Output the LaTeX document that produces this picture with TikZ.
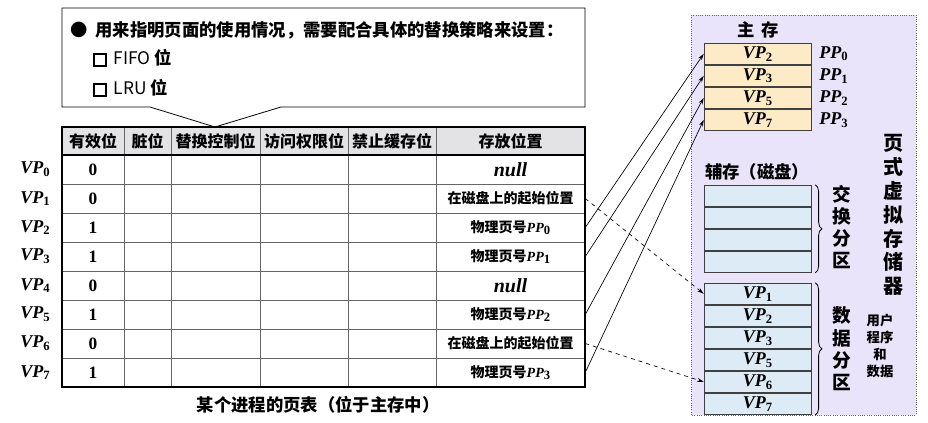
\documentclass[tikz,border=0pt]{standalone}
\usepackage{fontspec}
\usepackage{xcolor}
\usetikzlibrary{arrows.meta,positioning,decorations.pathreplacing}
\newfontfamily\cjk{Noto Sans CJK SC}
\newfontfamily\ser{Liberation Serif}
\definecolor{HeadGray}{HTML}{E3E3E6}
\definecolor{MainYellow}{HTML}{FCEBC6}
\definecolor{DiskBlue}{HTML}{DDEBF7}
\definecolor{VmPurple}{HTML}{E9E4F9}
\newcommand\optbox{{\setlength{\fboxrule}{1.5pt}\setlength{\fboxsep}{0pt}\fbox{\rule{0pt}{7.5pt}\hspace{7.5pt}}}}
\newcommand\pgname[2]{{\ser\bfseries\itshape #1\/}\raisebox{-0.35ex}{\ser\bfseries\fontsize{9.5}{10}\selectfont #2}}
\tikzset{
  pthead/.style={font=\cjk\bfseries\fontsize{12}{14}\selectfont, inner sep=1pt},
  ptloc/.style={font=\cjk\bfseries\fontsize{10.5}{12}\selectfont, minimum width=111.75pt, minimum height=21.75pt, inner sep=0pt},
  ptbit/.style={font=\ser\bfseries\fontsize{13}{15}\selectfont},
  vplabel/.style={font=\fontsize{13.5}{15}\selectfont},
  gridline/.style={draw=gray!80!black, line width=0.6pt},
  mmcell/.style={draw=black!75, fill=MainYellow, minimum width=80.25pt, minimum height=16.125pt, inner sep=0pt, font=\fontsize{13.5}{15}\selectfont},
  dkcell/.style={draw=black!75, fill=DiskBlue, minimum width=80.25pt, minimum height=16.125pt, inner sep=0pt, font=\fontsize{13.5}{15}\selectfont},
  vmtitle/.style={font=\cjk\bfseries\fontsize{13}{15}\selectfont},
  vtext/.style={font=\cjk\bfseries\fontsize{14}{16.7}\selectfont, align=center},
  ptarrow/.style={-{Stealth[length=5pt,width=3pt]}, line width=0.5pt},
  ptdash/.style={-{Stealth[length=5pt,width=3pt]}, dashed, line width=0.5pt},
  brace/.style={decorate, decoration={brace, amplitude=5pt}, line width=0.6pt}
}

\begin{document}
\begin{tikzpicture}[x=0.75pt, y=-0.75pt]
  \useasboundingbox (0,0) rectangle (928,422);
  % callout
  \draw[fill=white, line width=0.6pt] (62,8) -- (585,8) -- (585,107) -- (281,107) -- (215,127) -- (150,107) -- (62,107) -- cycle;
  \node[anchor=west, font=\cjk\bfseries\fontsize{13}{15}\selectfont, inner sep=0pt] (note) at (70,30) {●\hspace{6pt}用来指明页面的使用情况，需要配合具体的替换策略来设置：};
  \node[anchor=west, font=\cjk\fontsize{13}{15}\selectfont, inner sep=0pt] (fifo) at (93,58) {\optbox\hspace{5pt}FIFO \textbf{位}};
  \node[anchor=west, font=\cjk\fontsize{13}{15}\selectfont, inner sep=0pt] (lru) at (93,88) {\optbox\hspace{5pt}LRU \textbf{位}};

  % page table
  \fill[HeadGray] (62,127) rectangle (585,155);
  \foreach \k in {1,...,7}
    \draw[gridline] (62,{155+29*\k}) -- (585,{155+29*\k});
  \foreach \x in {124,171,260,348,436}
    \draw[gridline] (\x,127) -- (\x,387);
  \draw[line width=0.8pt] (62,155) -- (585,155);
  \draw[line width=0.9pt] (62,127) rectangle (585,387);
  \node[pthead] (h1) at (93,141) {有效位};
  \node[pthead] (h2) at (147.5,141) {脏位};
  \node[pthead] (h3) at (215.5,141) {替换控制位};
  \node[pthead] (h4) at (304,141) {访问权限位};
  \node[pthead] (h5) at (392,141) {禁止缓存位};
  \node[pthead] (h6) at (510.5,141) {存放位置};
  \foreach \k/\v/\loc in {0/0/{\ser\bfseries\itshape\fontsize{15}{16}\selectfont null},
                          1/0/在磁盘上的起始位置,
                          2/1/{物理页号\pgname{PP}{0}},
                          3/1/{物理页号\pgname{PP}{1}},
                          4/0/{\ser\bfseries\itshape\fontsize{15}{16}\selectfont null},
                          5/1/{物理页号\pgname{PP}{2}},
                          6/0/在磁盘上的起始位置,
                          7/1/{物理页号\pgname{PP}{3}}} {
    \node[vplabel] (vp\k) at (35,{169.5+29*\k}) {\pgname{VP}{\k}};
    \node[ptbit] (bit\k) at (93,{169.5+29*\k}) {\v};
    \node[ptloc] (loc\k) at (510.5,{169.5+29*\k}) {\loc};
  }
  \node[font=\cjk\bfseries\fontsize{13}{15}\selectfont] (caption) at (318,405) {某个进程的页表（位于主存中）};

  % virtual memory
  \fill[VmPurple] (691,15) rectangle (916,415);
  \draw[densely dotted, gray!80!black, line width=0.7pt] (691,15) rectangle (916,415);
  \node[vmtitle] (mmtitle) at (758,30) {主\hspace{5pt}存};
  \node[mmcell] (mm0) at (757.5,53.75) {\pgname{VP}{2}};
  \node[mmcell, below=0pt of mm0] (mm1) {\pgname{VP}{3}};
  \node[mmcell, below=0pt of mm1] (mm2) {\pgname{VP}{5}};
  \node[mmcell, below=0pt of mm2] (mm3) {\pgname{VP}{7}};
  \foreach \k in {0,...,3}
    \node[right=2.5pt of mm\k, font=\fontsize{13.5}{15}\selectfont] (pp\k) {\pgname{PP}{\k}};
  \node[vmtitle] (disktitle) at (757,172) {辅存（磁盘）};
  \node[dkcell] (sw0) at (757.5,195.75) {};
  \node[dkcell, below=0pt of sw0] (sw1) {};
  \node[dkcell, below=0pt of sw1] (sw2) {};
  \node[dkcell, below=0pt of sw2] (sw3) {};
  \node[dkcell] (dt0) at (757.5,293.75) {\pgname{VP}{1}};
  \node[dkcell, below=0pt of dt0] (dt1) {\pgname{VP}{2}};
  \node[dkcell, below=0pt of dt1] (dt2) {\pgname{VP}{3}};
  \node[dkcell, below=0pt of dt2] (dt3) {\pgname{VP}{5}};
  \node[dkcell, below=0pt of dt3] (dt4) {\pgname{VP}{6}};
  \node[dkcell, below=0pt of dt4] (dt5) {\pgname{VP}{7}};
  \draw[brace] ([xshift=3pt]sw0.north east) -- ([xshift=3pt]sw3.south east);
  \draw[brace] ([xshift=3pt]dt0.north east) -- ([xshift=3pt]dt5.south east);
  \node[vtext] (swap) at (842,227) {交\\换\\分\\区};
  \node[vtext] (data) at (842,349) {数\\据\\分\\区};
  \node[font=\cjk\bfseries\fontsize{10}{12.8}\selectfont, align=center] (user) at (880,346) {用户\\程序\\和\\数据};
  \node[font=\cjk\bfseries\fontsize{15}{17.9}\selectfont, align=center] (vm) at (893,215) {页\\式\\虚\\拟\\存\\储\\器};

  % mappings
  \draw[ptarrow] (loc2.east) -- (mm0.west);
  \draw[ptarrow] (loc3.east) -- (mm1.west);
  \draw[ptarrow] (loc5.east) -- (mm2.west);
  \draw[ptarrow] (loc7.east) -- (mm3.west);
  \draw[ptdash] (loc1.east) -- (dt0.west);
  \draw[ptdash] (loc6.east) -- (dt4.west);
\end{tikzpicture}
\end{document}
